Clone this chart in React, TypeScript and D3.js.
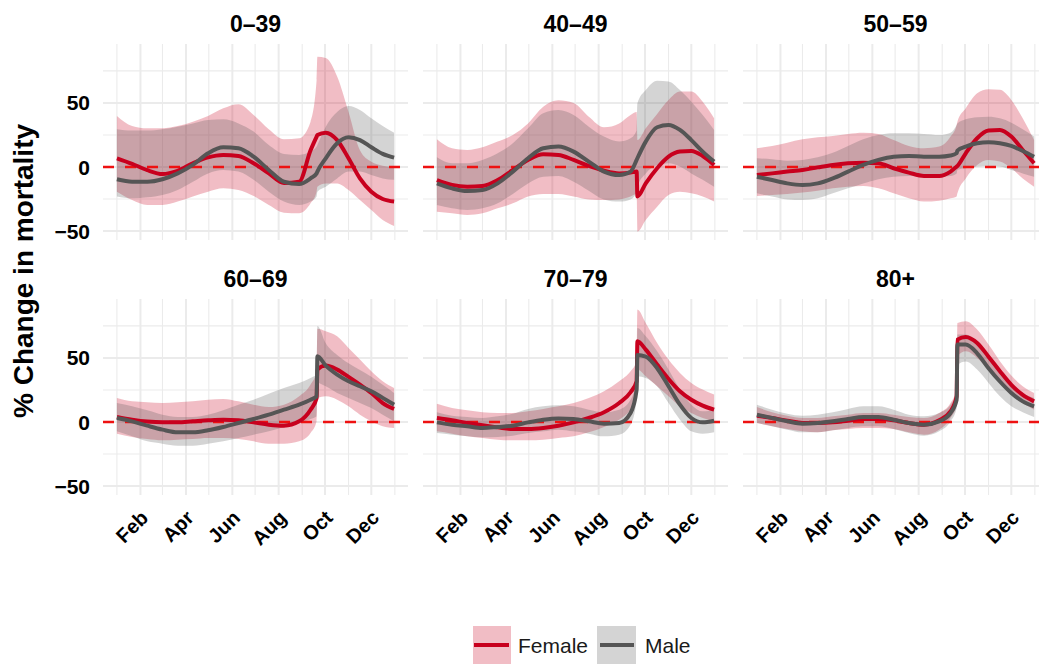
import React from 'react';
import * as d3 from 'd3';

// ---- data (day of year 2020, % change in mortality) ----
const DAYS = [0, 20, 40, 60, 80, 100, 120, 140, 160, 180, 200, 220, 240, 255, 263, 264, 275, 290, 305, 320, 335, 350, 365];

const PANEL_LABELS = ['0–39', '40–49', '50–59', '60–69', '70–79', '80+'];

// 0–39
const F_MEAN_0_39 = [6.8, 2.5, -2.5, -5.5, -3, 2.9, 7.5, 9.4, 8.6, 2.9, -5, -12.5, -11.5, 13, 23.7, 25, 26.8, 21, 6.8, -8.9, -19.3, -25, -27];
const F_HI_0_39 = [39.8, 32, 30.2, 30.2, 32, 35.4, 39.8, 45.8, 49, 40.6, 29.4, 21.6, 22.4, 35.4, 68, 86, 85, 70.6, 43, 13, 4, 1, 0];
const F_LO_0_39 = [-19.3, -25.8, -29.7, -29.7, -27, -23, -19.3, -16.7, -18, -22.7, -29.7, -35.7, -36.2, -28.4, -19.3, -15.4, -12.8, -12.8, -18, -25.8, -33.6, -41.4, -46];
const M_MEAN_0_39 = [-9.6, -11.5, -11.5, -9.6, -5, 1.6, 10.7, 15.4, 14.6, 8, -2.3, -11.5, -13.3, -8.9, -5, -3.6, 6.8, 18.5, 23.2, 21, 15.4, 10.2, 7.3];
const M_HI_0_39 = [29.4, 28.4, 28.4, 29.4, 31.5, 34, 36.7, 37.2, 34, 27.6, 17.2, 10.2, 9.4, 12, 15.9, 17.2, 31.5, 43, 47.7, 44.5, 38, 32, 26.8];
const M_LO_0_39 = [-23, -24.5, -23.7, -21.9, -18, -11.5, -5, -2.3, -3.6, -10, -19.3, -27, -29.7, -27, -23, -19.3, -15.4, -8.9, -3.6, -3.6, -6.3, -8.9, -10];

// 40–49
const F_MEAN_40_49 = [-10.2, -14, -15.4, -14.8, -10.2, -2.3, 5.5, 9.9, 9.4, 5.5, 0.8, -2.9, -5, -4.4, -3.6, -23, -12.8, -1, 8, 12, 12.5, 8.6, 1.6];
const F_HI_40_49 = [21.6, 14.6, 13.3, 15.4, 19.8, 25, 34, 47, 52, 50, 39.3, 31, 34, 40.6, 43, 21, 30.2, 41.4, 52.3, 58.9, 58.9, 51, 38];
const F_LO_40_49 = [-34.9, -36.2, -37.5, -36.2, -32.3, -28.4, -23, -21, -21, -23, -25.3, -25.8, -25.3, -23, -21, -50.5, -41.4, -31, -21.9, -19.3, -20.6, -23, -27];
const M_MEAN_40_49 = [-12.8, -16.7, -18.8, -18, -12.8, -3.6, 6.8, 14.6, 15.9, 12, 4.2, -3.6, -6.3, -3.6, 5.5, 6.8, 19.8, 31, 32.8, 28.9, 21, 12, 4.2];
const M_HI_40_49 = [7.6, 2.9, 2.9, 5.5, 10.7, 18.5, 30.2, 42, 44.5, 40.6, 31.5, 23.7, 19.8, 22.4, 28.9, 49.7, 60, 67.4, 66.7, 60, 51, 40.6, 28.9];
const M_LO_40_49 = [-29.7, -32.3, -33.6, -32.3, -28.4, -21, -12.8, -7.6, -7, -11.5, -18.5, -25.3, -27, -25.3, -19.3, -15.4, -5, 1.6, 2.9, 0.3, -5, -10, -15.4];

// 50–59
const F_MEAN_50_59 = [-6.3, -5, -3.6, -2.3, -0.3, 1.6, 2.9, 3.4, 2.9, -1, -4.4, -7, -7, -3.6, 0.3, 0.8, 10.7, 22.4, 28.4, 28.9, 23.7, 13.3, 2.9];
const F_HI_50_59 = [14.6, 16.4, 19, 21.6, 23.2, 24.2, 25.8, 26.8, 25.8, 21, 16.4, 14.6, 15.9, 23.7, 32.8, 35.4, 45.8, 57.5, 60.7, 60.2, 52.3, 38, 21];
const F_LO_50_59 = [-22.7, -21.9, -21, -20, -18.5, -16.7, -15.4, -14.8, -16.7, -20.6, -24.5, -27, -26.3, -24.5, -23, -20.6, -8.9, 1.6, 5.5, 4.2, -1, -8.9, -15.4];
const M_MEAN_50_59 = [-7.6, -10.2, -12.8, -14, -12.8, -8.9, -3.6, 1.6, 5.5, 8, 8.6, 8, 8, 8.9, 10.7, 12.8, 15.9, 18.5, 19.3, 18.5, 16.4, 12.5, 8];
const M_HI_50_59 = [6.8, 6, 4.9, 5.5, 7.6, 11.2, 16.4, 21.6, 25, 26.3, 26.3, 25.8, 25, 26.8, 32.8, 34, 37.2, 38.8, 39.3, 38, 34.6, 29.4, 23.7];
const M_LO_50_59 = [-20.6, -23, -25.3, -25.8, -24.5, -20.6, -16.7, -12.8, -9.6, -7.6, -7, -7.6, -7.6, -7, -5, -2.3, -1, 0.3, 0.8, 0.3, -2.3, -5, -7.6];

// 60–69
const F_MEAN_60_69 = [3.9, 1.8, 0.3, -0.3, -0.3, 0.5, 1.3, 1.8, 1.3, -0.3, -2.1, -2.9, 0.5, 9.6, 18.8, 40.9, 44, 40.9, 35.2, 29.2, 22.7, 14.8, 10.2];
const F_HI_60_69 = [18.8, 16.1, 15.4, 14.8, 15.4, 16.1, 17.4, 18, 16.1, 13.5, 11.7, 13.5, 20, 29.2, 39.6, 72.7, 70.8, 66.9, 57.8, 48.7, 39.6, 31.8, 26.6];
const F_LO_60_69 = [-9.1, -11.7, -13.3, -14.3, -13.8, -13.3, -12.5, -12.5, -13.3, -15.1, -16.9, -16.9, -15.1, -8.6, 0.5, 18.8, 20, 17.4, 12.2, 5.7, 0.5, -3.4, -4.7];
const M_MEAN_60_69 = [3.1, 0.5, -2.9, -6, -8.1, -8.1, -6.5, -3.9, -0.8, 2.3, 5.7, 9.6, 13.5, 17.4, 20, 51.3, 44, 37, 31.8, 27.9, 24, 18.8, 13.5];
const M_HI_60_69 = [14.8, 12.2, 9.1, 5.7, 3.9, 3.9, 5.7, 9.1, 13.5, 17.4, 22.1, 26.6, 30.5, 34.4, 37, 75, 61.5, 52.3, 45.8, 40.6, 35.4, 29, 22.7];
const M_LO_60_69 = [-7.3, -11.2, -15.1, -16.9, -18.5, -18.5, -16.9, -15.1, -12.5, -9.9, -7.3, -3.9, -0.8, 2.3, 4.4, 30.5, 27.9, 22.7, 18.8, 14.8, 10.9, 5.7, 0.5];

// 70–79
const F_MEAN_70_79 = [3.1, 1.3, -0.8, -2.6, -4.2, -5.5, -5.5, -4.7, -2.9, -0.3, 3.1, 7.6, 14.8, 23.2, 31.8, 63, 56.5, 44.8, 33.6, 24, 17.4, 12.8, 9.6];
const F_HI_70_79 = [14.3, 10.9, 9.1, 7.6, 7, 7, 8.3, 10.2, 12.2, 14.8, 18.8, 24, 31.8, 39.6, 47.4, 87.8, 77.3, 61.7, 48.7, 38.3, 30.5, 25.3, 21.4];
const F_LO_70_79 = [-7.3, -9.1, -11.2, -12.5, -13.8, -14.3, -14.3, -13.8, -12.5, -11.2, -8.1, -3.9, 1.8, 9.6, 17.4, 40.9, 35.7, 27.9, 20, 12.2, 7, 3.1, 0.5];
const M_MEAN_70_79 = [-0.3, -2.1, -3.4, -4.7, -3.9, -2.9, -0.3, 1.8, 2.8, 2.3, 0.5, -1.3, -0.8, 7, 25.1, 52.3, 51, 42, 27.9, 13.5, 3.1, -0.3, 1];
const M_HI_70_79 = [7.6, 4.9, 3.9, 3.1, 4.4, 6.5, 10.2, 12.2, 13, 12.2, 9.6, 7.6, 9.6, 17.4, 34.4, 73.4, 66.9, 55.2, 40.9, 25.3, 13.5, 8.3, 9.6];
const M_LO_70_79 = [-8.6, -9.9, -11.2, -12, -11.7, -10.7, -8.6, -7.3, -6, -7.3, -9.1, -11.2, -9.9, -2.1, 17.4, 35.7, 34.4, 27.9, 14.8, 1.8, -7.3, -9.1, -8.1];

// 80+
const F_MEAN_80 = [4.9, 3.1, 1, -0.8, -0.8, -0.3, 1, 2.3, 2.3, 1.3, -0.8, -2.1, 1.3, 8.3, 20, 64.3, 66.4, 61.7, 51, 39.6, 29, 21.2, 16.1];
const F_HI_80 = [11.7, 7.6, 4.9, 3.1, 3.1, 4.4, 5.7, 7, 7, 5.7, 3.9, 3.1, 7, 14.8, 26.6, 77.3, 78.6, 72.1, 60.4, 47.4, 36.2, 27.9, 22.7];
const F_LO_80 = [-0.8, -3.4, -5.5, -7.3, -8.1, -6.5, -5.5, -4.7, -4.7, -5.5, -8.1, -9.9, -6, 3.1, 13.5, 51.3, 55.2, 50, 40.9, 30.5, 21.2, 14.8, 9.6];
const M_MEAN_80 = [5.7, 3.1, 0.5, -1.3, -0.8, 0.5, 2.3, 3.9, 3.9, 1.8, -0.8, -2.1, 0.5, 7, 17.4, 60.4, 60.4, 53.6, 42, 31.6, 22.7, 16.1, 12.2];
const M_HI_80 = [13.5, 9.6, 6.5, 4.9, 5.7, 7.6, 10.2, 12.2, 12.2, 9.6, 5.7, 4.4, 7, 13.5, 23.8, 68.2, 68.2, 61.7, 50, 38.3, 29, 22.5, 18.8];
const M_LO_80 = [-0.8, -3.4, -6, -8.1, -8.1, -6.5, -4.7, -3.4, -3.4, -5.5, -8.6, -10.7, -7.3, 0.5, 10.9, 44.6, 47.2, 40.9, 30.5, 20, 12.2, 7.6, 3.9];

// axis ticks
const MONTH_TICK_DAYS = [31, 91, 152, 213, 274, 335];
const MONTH_TICK_LABELS = ['Feb', 'Apr', 'Jun', 'Aug', 'Oct', 'Dec'];
const MONTH_MINOR_DAYS = [0, 60, 121, 182, 244, 305, 366];
const Y_MAJOR = [-50, 0, 50];
const Y_MAJOR_LABELS = ['−50', '0', '50'];
const Y_MINOR = [-25, 25, 75];

const SERIES_LABELS = ['Female', 'Male'];

const PANEL_DATA = [
  [F_MEAN_0_39, F_LO_0_39, F_HI_0_39, M_MEAN_0_39, M_LO_0_39, M_HI_0_39],
  [F_MEAN_40_49, F_LO_40_49, F_HI_40_49, M_MEAN_40_49, M_LO_40_49, M_HI_40_49],
  [F_MEAN_50_59, F_LO_50_59, F_HI_50_59, M_MEAN_50_59, M_LO_50_59, M_HI_50_59],
  [F_MEAN_60_69, F_LO_60_69, F_HI_60_69, M_MEAN_60_69, M_LO_60_69, M_HI_60_69],
  [F_MEAN_70_79, F_LO_70_79, F_HI_70_79, M_MEAN_70_79, M_LO_70_79, M_HI_70_79],
  [F_MEAN_80, F_LO_80, F_HI_80, M_MEAN_80, M_LO_80, M_HI_80],
];

// ---- style ----
const RED = '#C8001E';
const GREY = '#555555';
const HLINE = '#EE1111';
const GRID = '#EBEBEB';
const FONT = '"Liberation Sans", Arial, Helvetica, sans-serif';
const LINE_W = 4;

const COL_LEFT = [103, 423, 743];
const PANEL_W = 305;
const ROW_TOP = [44, 299];
const PANEL_H = 196;

type Pt = { d: number; m: number; lo: number; hi: number };

function Panel({ idx }: { idx: number }) {
  const col = idx % 3;
  const row = Math.floor(idx / 3);
  const L = COL_LEFT[col];
  const T = ROW_TOP[row];
  const x = d3.scaleLinear().domain([-18.3, 383.3]).range([L, L + PANEL_W]);
  const y = d3.scaleLinear().domain([-57, 96]).range([T + PANEL_H, T]);
  const [fm, flo, fhi, mm, mlo, mhi] = PANEL_DATA[idx];
  const fem: Pt[] = DAYS.map((d, i) => ({ d, m: fm[i], lo: flo[i], hi: fhi[i] }));
  const mal: Pt[] = DAYS.map((d, i) => ({ d, m: mm[i], lo: mlo[i], hi: mhi[i] }));
  const area = d3
    .area<Pt>()
    .x((p) => x(p.d))
    .y0((p) => y(p.lo))
    .y1((p) => y(p.hi))
    .curve(d3.curveMonotoneX);
  const line = d3
    .line<Pt>()
    .x((p) => x(p.d))
    .y((p) => y(p.m))
    .curve(d3.curveMonotoneX);

  return (
    <g>
      {/* grid */}
      {Y_MINOR.map((v) => (
        <line key={'ym' + v} x1={L} x2={L + PANEL_W} y1={y(v)} y2={y(v)} stroke={GRID} strokeWidth={1.1} />
      ))}
      {MONTH_MINOR_DAYS.map((d) => (
        <line key={'xm' + d} x1={x(d)} x2={x(d)} y1={T} y2={T + PANEL_H} stroke={GRID} strokeWidth={1.1} />
      ))}
      {Y_MAJOR.map((v) => (
        <line key={'yM' + v} x1={L} x2={L + PANEL_W} y1={y(v)} y2={y(v)} stroke={GRID} strokeWidth={2} />
      ))}
      {MONTH_TICK_DAYS.map((d) => (
        <line key={'xM' + d} x1={x(d)} x2={x(d)} y1={T} y2={T + PANEL_H} stroke={GRID} strokeWidth={2} />
      ))}
      {/* ribbons */}
      <path d={area(fem) || ''} fill={RED} fillOpacity={0.26} />
      <path d={area(mal) || ''} fill={GREY} fillOpacity={0.25} />
      {/* zero line */}
      <line x1={L} x2={L + PANEL_W} y1={y(0)} y2={y(0)} stroke={HLINE} strokeWidth={2.6} strokeDasharray="11 11" />
      {/* lines */}
      <path d={line(fem) || ''} fill="none" stroke={RED} strokeWidth={LINE_W} strokeLinejoin="round" />
      <path d={line(mal) || ''} fill="none" stroke={GREY} strokeWidth={LINE_W} strokeLinejoin="round" />
      {/* strip */}
      <text x={L + PANEL_W / 2} y={T - 12.5} textAnchor="middle" fontSize={23} fontWeight="bold" fill="#000">
        {PANEL_LABELS[idx]}
      </text>
      {/* y axis labels */}
      {col === 0 &&
        Y_MAJOR.map((v, i) => (
          <text key={'yl' + v} x={90} y={y(v)} dy="0.36em" textAnchor="end" fontSize={21} fontWeight="bold" fill="#000">
            {Y_MAJOR_LABELS[i]}
          </text>
        ))}
      {/* x axis labels */}
      {row === 1 &&
        MONTH_TICK_DAYS.map((d, i) => (
          <text
            key={'xl' + d}
            transform={`translate(${x(d) + 9},${T + PANEL_H + 24}) rotate(-45)`}
            textAnchor="end"
            fontSize={20}
            fontWeight="bold"
            fill="#000"
          >
            {MONTH_TICK_LABELS[i]}
          </text>
        ))}
    </g>
  );
}

export default function App() {
  return (
    <svg
      width={1039}
      height={664}
      style={{ position: 'absolute', left: 0, top: 0, background: '#fff' }}
      fontFamily={FONT}
    >
      <rect x={0} y={0} width={1039} height={664} fill="#fff" />
      {PANEL_LABELS.map((_, i) => (
        <Panel key={i} idx={i} />
      ))}
      <text
        transform="translate(33,271) rotate(-90)"
        textAnchor="middle"
        fontSize={28}
        fontWeight="bold"
        fill="#000"
      >
        % Change in mortality
      </text>
      {/* legend */}
      <g>
        <rect x={473} y={626} width={38} height={38} fill={RED} fillOpacity={0.26} />
        <line x1={474} x2={509} y1={645} y2={645} stroke={RED} strokeWidth={LINE_W} />
        <text x={518} y={652.5} fontSize={21} fill="#1a1a1a">
          {SERIES_LABELS[0]}
        </text>
        <rect x={597} y={626} width={39} height={38} fill={GREY} fillOpacity={0.25} />
        <line x1={600} x2={634} y1={645} y2={645} stroke={GREY} strokeWidth={LINE_W} />
        <text x={645} y={652.5} fontSize={21} fill="#1a1a1a">
          {SERIES_LABELS[1]}
        </text>
      </g>
    </svg>
  );
}
